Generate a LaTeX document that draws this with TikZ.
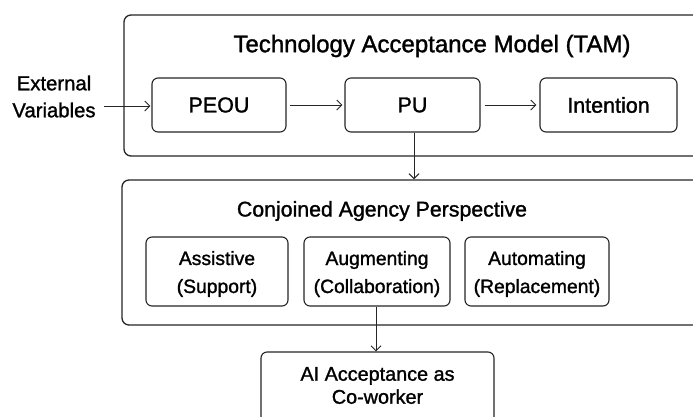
\documentclass[tikz,border=0pt]{standalone}
\usepackage{fontspec}
\setmainfont{Liberation Sans}[FakeBold=1.3]
\usetikzlibrary{arrows.meta}
\begin{document}
\begin{tikzpicture}[x=1pt,y=-1pt,
  outer/.style={draw=black!85, line width=1.3pt, rounded corners=7pt, inner sep=0pt},
  inbox/.style={draw=black!85, line width=1.1pt, rounded corners=6pt, inner sep=0pt, align=center},
  arr/.style={draw=black!85, line width=1.0pt, -{Straight Barb[length=5pt,width=10pt,line width=1pt]}},
  ttl/.style={font=\fontsize{24}{28}\selectfont},
  txt/.style={font=\fontsize{21.5}{27}\selectfont, align=center},
  txs/.style={font=\fontsize{19.3}{28}\selectfont, align=center}
]
\useasboundingbox (0,0) rectangle (693,416);
\clip (0,0) rectangle (693,416);
\fill[white] (0,0) rectangle (693,416);
% outer boxes
\node[outer, minimum width=586pt, minimum height=141pt] (tam) at (417,85.5) {};
\node[outer, minimum width=588pt, minimum height=145pt] (cap) at (416,252.5) {};
% titles
\node[ttl] (tamt) at (432,46) {Technology Acceptance Model (TAM)};
\node[font=\fontsize{21.3}{26}\selectfont] (capt) at (382,211) {Conjoined Agency Perspective};
% TAM nodes
\node[inbox, txt, minimum width=134pt, minimum height=54pt] (peou) at (219,105) {PEOU};
\node[inbox, txt, minimum width=135pt, minimum height=54pt] (pu) at (412.5,105) {PU};
\node[inbox, txt, minimum width=137pt, minimum height=54pt] (int) at (608.5,105) {Intention};
\node[align=center, font=\fontsize{20.3}{27}\selectfont] (ext) at (54,96.5) {External\\Variables};
\coordinate (evs) at (104,106);
% agency nodes
\node[inbox, minimum width=142pt, minimum height=69pt] (ass) at (217,271.5) {};
\node[inbox, minimum width=146pt, minimum height=69pt] (aug) at (377,271.5) {};
\node[inbox, minimum width=144pt, minimum height=69pt] (aut) at (537,271.5) {};
\node[txs] (asst) at (217,274) {Assistive\\(Support)};
\node[txs] (augt) at (377,274) {Augmenting\\(Collaboration)};
\node[txs] (autt) at (537,274) {Automating\\(Replacement)};
% final
\node[inbox, minimum width=233pt, minimum height=72pt] (fin) at (377.5,388) {};
\node[font=\fontsize{19.8}{23}\selectfont, align=center] (fint) at (377.5,385.5) {AI Acceptance as\\Co-worker};
% arrows
\draw[arr] (evs) -- ([xshift=-1pt]peou.west |- evs);
\draw[arr] ([xshift=3pt]peou.east) -- ([xshift=-2pt]pu.west);
\draw[arr] ([xshift=4pt]pu.east) -- ([xshift=-3pt]int.west);
\draw[arr] ([xshift=1.5pt]pu.south) -- ([xshift=1.5pt]pu.south |- cap.north);
\draw[arr] ([xshift=-1pt]aug.south) -- ([xshift=-1pt]aug.south |- fin.north);
\end{tikzpicture}
\end{document}
